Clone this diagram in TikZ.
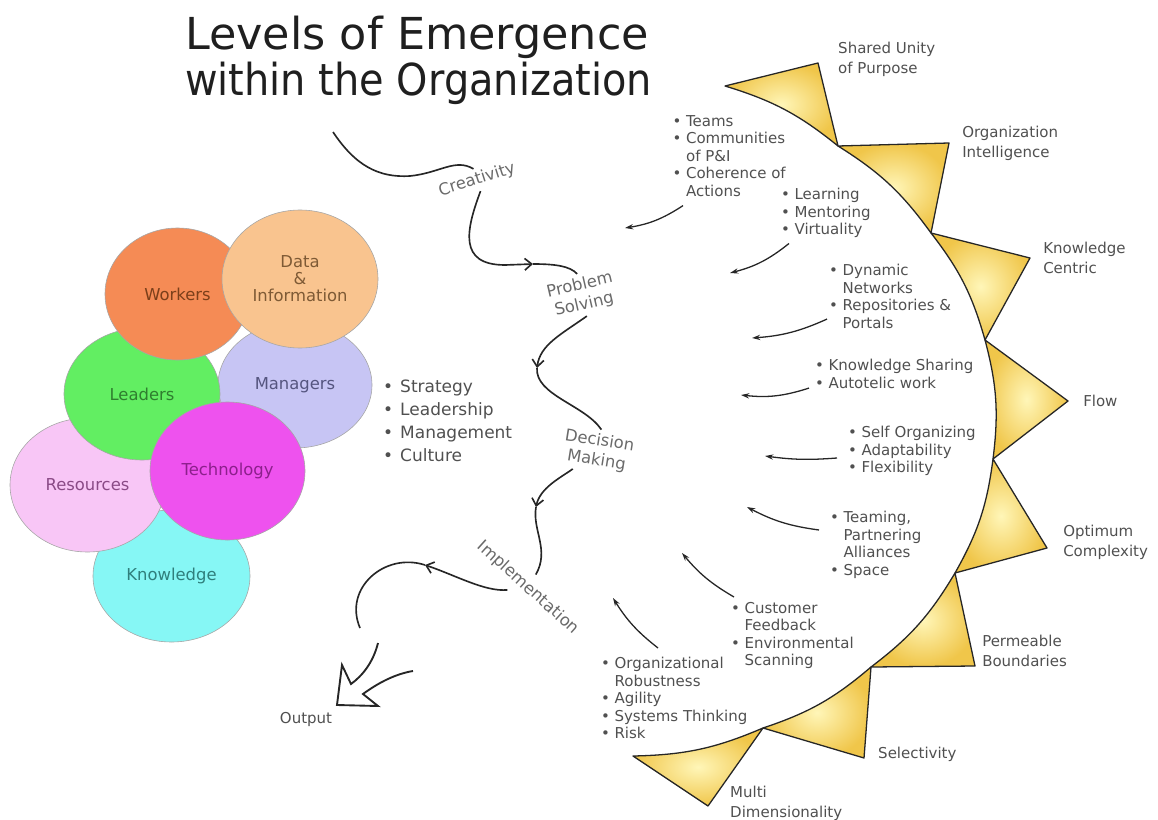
\documentclass[tikz,border=0pt]{standalone}
\usepackage{fontspec}
\usepackage{graphicx}
\setmainfont{DejaVu Sans}
\usetikzlibrary{arrows.meta,shapes.geometric}
\definecolor{txtgray}{HTML}{505050}
\definecolor{labgray}{HTML}{6A6A6A}
\definecolor{cWork}{HTML}{F58B55}
\definecolor{cData}{HTML}{F9C48F}
\definecolor{cMan}{HTML}{C7C5F4}
\definecolor{cLead}{HTML}{62EE62}
\definecolor{cRes}{HTML}{F8C6F6}
\definecolor{cTech}{HTML}{EE52EE}
\definecolor{cKnow}{HTML}{86F7F5}
\definecolor{tWork}{HTML}{7B3F1A}
\definecolor{tData}{HTML}{7E5A35}
\definecolor{tMan}{HTML}{55557F}
\definecolor{tLead}{HTML}{2F7F2F}
\definecolor{tRes}{HTML}{8A4A86}
\definecolor{tTech}{HTML}{8C1F8C}
\definecolor{tKnow}{HTML}{2F7F7C}
\definecolor{triIn}{HTML}{FFF6B8}
\definecolor{triOut}{HTML}{F0C64A}
\newcommand\fsz[2]{\fontsize{#1}{#2}\selectfont}
\newcommand\bu{\makebox[0.40cm][l]{•}}
\newcommand\ind{\hspace*{0.40cm}}
\newcommand\bU{\makebox[0.51cm][l]{•}}
\begin{document}
\begin{tikzpicture}[x=0.03cm,y=0.03cm,
  blob/.style={ellipse, draw=black!35, line width=0.5pt, inner sep=0pt, align=center, font=\fsz{14pt}{14.5pt}},
  tri/.style={draw=black!85, line width=1.1pt, line join=round, inner color=triIn, outer color=triOut},
  trilab/.style={anchor=north west, inner sep=0pt, align=left, text=txtgray, font=\fsz{12.8pt}{17.1pt}},
  blist/.style={anchor=north west, inner sep=0pt, align=left, text=txtgray, font=\fsz{12.8pt}{14.94pt}},
  slist/.style={anchor=north west, inner sep=0pt, align=left, text=txtgray, font=\fsz{14.5pt}{19.4pt}},
  flowlab/.style={inner sep=3pt, align=center, text=labgray, font=\fsz{14pt}{17pt}},
  flow/.style={line width=1.4pt, black!85},
  fhead/.style={-{Straight Barb[length=6pt,width=10pt]}},
  side/.style={line width=1.1pt, black!85, -{Stealth[length=7pt,width=4.5pt]}},
  ttl/.style={anchor=base west, inner sep=0pt, text=black!88, font=\fsz{37.6pt}{40pt}}
]
\useasboundingbox (0,0) rectangle (1158,-819);

% ---------- title
\node[ttl] (t1) at (185,-50) {\scalebox{1.01}[1]{Levels of Emergence}};
\node[ttl] (t2) at (185,-96) {\scalebox{0.905}[1]{within the Organization}};

% ---------- circles
\node[blob, fill=cKnow, text=tKnow, minimum width=4.71cm, minimum height=3.96cm] (know) at (171.5,-576) {Knowledge};
\node[blob, fill=cRes, text=tRes, minimum width=4.65cm, minimum height=4.02cm] (res) at (87.5,-485) {Resources};
\node[blob, fill=cMan, text=tMan, minimum width=4.62cm, minimum height=3.78cm] (man) at (295,-385) {Managers};
\node[blob, fill=cLead, text=tLead, minimum width=4.68cm, minimum height=3.96cm] (lead) at (142,-394) {Leaders};
\node[blob, fill=cTech, text=tTech, minimum width=4.65cm, minimum height=4.14cm] (tech) at (227.5,-471) {Technology};
\node[blob, fill=cWork, text=tWork, minimum width=4.35cm, minimum height=3.96cm] (work) at (177.5,-294) {Workers};
\node[blob, fill=cData, text=tData, minimum width=4.68cm, minimum height=4.14cm] (data) at (300,-279) {Data\\\&\\Information};

% ---------- strategy list
\node[slist] (SL) at (383,-380) {\bU Strategy\\\bU Leadership\\\bU Management\\\bU Culture};

% ---------- triangles on the arc
\path[tri] (725,-86) to[bend left=11] (838,-146) -- (818,-63) -- cycle;
\path[tri] (838,-146) to[bend left=11] (931,-233) -- (949,-143) -- cycle;
\path[tri] (931,-233) to[bend left=11] (985,-340) -- (1030,-258) -- cycle;
\path[tri] (985,-340) to[bend left=11] (993,-459) -- (1068,-401) -- cycle;
\path[tri] (993,-459) to[bend left=11] (955,-573) -- (1047,-548) -- cycle;
\path[tri] (955,-573) to[bend left=11] (871,-667) -- (975,-666) -- cycle;
\path[tri] (871,-667) to[bend left=11] (763,-728) -- (864,-758) -- cycle;
\path[tri] (763,-728) to[bend left=11] (633,-756) -- (708,-806) -- cycle;

% ---------- triangle labels
\node[trilab] (lab1) at (838,-42) {Shared Unity\\of Purpose};
\node[trilab] (lab2) at (962,-126) {Organization\\Intelligence};
\node[trilab] (lab3) at (1043,-242) {Knowledge\\Centric};
\node[trilab] (lab4) at (1083,-395) {Flow};
\node[trilab] (lab5) at (1063,-525) {Optimum\\Complexity};
\node[trilab] (lab6) at (982,-635) {Permeable\\Boundaries};
\node[trilab] (lab7) at (878,-747) {Selectivity};
\node[trilab] (lab8) at (730,-786) {Multi\\Dimensionality};

% ---------- bullet lists
\node[blist] (L1) at (672.5,-115) {\bu Teams\\\bu Communities\\\ind of P\&I\\\bu Coherence of\\\ind Actions};
\node[blist] (L2) at (781,-188) {\bu Learning\\\bu Mentoring\\\bu Virtuality};
\node[blist] (L3) at (829,-264) {\bu Dynamic\\\ind Networks\\\bu Repositories \&\\\ind Portals};
\node[blist] (L4) at (815,-359) {\bu Knowledge Sharing\\\bu Autotelic work};
\node[blist] (L5) at (848,-426) {\bu Self Organizing\\\bu Adaptability\\\bu Flexibility};
\node[blist] (L6) at (830,-511) {\bu Teaming,\\\ind Partnering\\\ind Alliances\\\bu Space};
\node[blist] (L7) at (731,-602) {\bu Customer\\\ind Feedback\\\bu Environmental\\\ind Scanning};
\node[blist] (L8) at (601,-657) {\bu Organizational\\\ind Robustness\\\bu Agility\\\bu Systems Thinking\\\bu Risk};

% ---------- arrows from the lists
\coordinate (e1) at (625,-228);
\coordinate (e2) at (730,-273);
\coordinate (e3) at (752,-338);
\coordinate (e4) at (741,-395);
\coordinate (e5) at (765,-456);
\coordinate (e6) at (747,-507);
\coordinate (e7) at (682,-553);
\coordinate (e8) at (613,-598);
\draw[side] ([shift={(10.5,-9)}]L1.south west) to[bend left=12] (e1);
\draw[side] ([shift={(8,-5.5)}]L2.south west) to[bend left=12] (e2);
\draw[side] ([shift={(-2,9.5)}]L3.south west) to[bend left=10] (e3);
\draw[side] ([shift={(-6,0.5)}]L4.south west) to[bend left=12] (e4);
\draw[side] ([shift={(-11,-7)}]L5.west) to[bend left=6] (e5);
\draw[side] ([shift={(-11,-19)}]L6.north west) to[bend left=10] (e6);
\draw[side] ([shift={(3,5)}]L7.north west) to[bend left=10] (e7);
\draw[side] ([shift={(57,9)}]L8.north west) to[bend left=10] (e8);

% ---------- the flow
\node[flowlab, rotate=17.5] (cre) at (477,-180) {Creativity};
\node[flowlab, rotate=13] (ps) at (582,-295) {Problem\\Solving};
\node[flowlab, rotate=-9] (dm) at (598,-451) {Decision\\Making};
\node[flowlab, rotate=-42, inner sep=6pt] (impl) at (528,-588) {Implementation};
\node[inner sep=0pt, text=txtgray, font=\fsz{12.8pt}{14pt}] (out) at (306,-719) {Output};
\coordinate (fs) at (333,-132);
\coordinate (m1) at (533,-264);
\coordinate (m2) at (537,-368);
\coordinate (m3) at (536,-507);
\coordinate (m4) at (425,-565);
\coordinate (fe) at (360,-628);

\draw[flow] (fs) .. controls (355,-165) and (378,-178) .. (410,-176) .. controls (440,-173) and (455,-158) .. (cre.north);
\draw[flow, fhead] (cre.south) .. controls (466,-230) and (458,-265) .. (505,-265) -- (m1);
\draw[flow] (m1) .. controls (555,-264) and (570,-266) .. (ps.north);
\draw[flow, fhead] (ps.south) .. controls (560,-335) and (540,-345) .. (m2);
\draw[flow] (m2) .. controls (535,-395) and (585,-405) .. (dm.north);
\draw[flow, fhead] (dm) .. controls (560,-478) and (540,-488) .. (m3);
\draw[flow] (m3) .. controls (532,-530) and (550,-550) .. (impl);
\draw[flow, fhead] (impl) .. controls (485,-592) and (455,-575) .. (m4);
\draw[flow] (m4) .. controls (385,-552) and (343,-588) .. (fe);

% ---------- hollow output arrow
\draw[flow, line width=1.6pt, line join=miter] (378,-643) .. controls (373,-663) and (362,-676) .. (351,-684) -- (342,-665) -- (337,-705) -- (378,-706) -- (363,-694) .. controls (378,-683) and (395,-674) .. (413,-671);
\end{tikzpicture}
\end{document}
